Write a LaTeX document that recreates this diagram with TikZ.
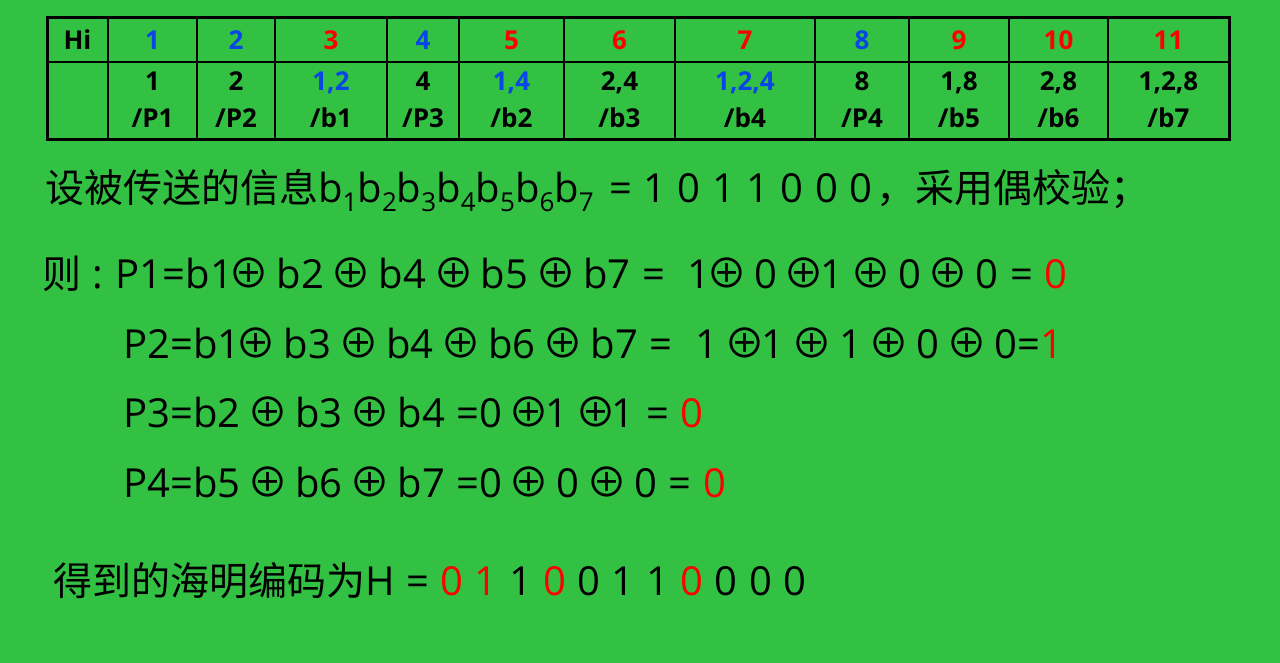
\documentclass[tikz,border=0pt]{standalone}
\usepackage{fontspec}
\setmainfont[WordSpace=1.1]{Open Sans}
\newfontfamily\cjkf{Noto Sans CJK SC}
\newcommand{\cjk}[1]{{\cjkf\fontsize{39}{39}\selectfont #1}}
\newcommand{\xo}{\hbox to 32pt{\hss{\cjkf\fontsize{41}{41}\selectfont ⊕}\hss}}
\definecolor{bg}{RGB}{51,193,67}
\definecolor{hblue}{RGB}{10,70,230}
\definecolor{hred}{RGB}{255,0,0}
\newcommand{\sbx}[1]{\raisebox{-0.22em}{\fontsize{26}{26}\selectfont #1}}
\newcommand{\bl}[1]{\textcolor{hblue}{#1}}
\newcommand{\rd}[1]{\textcolor{hred}{#1}}
\tikzset{
  cell/.style={inner sep=0pt, font=\fontsize{26}{26}\selectfont\bfseries, text=black, anchor=base},
  body/.style={inner sep=0pt, anchor=base west, font=\fontsize{40}{40}\selectfont, text=black},
  thinrule/.style={line width=1.5pt, black},
  thickrule/.style={line width=3pt, black}
}
\begin{document}
\begin{tikzpicture}[x=1pt,y=-1pt]
\fill[bg] (0,0) rectangle (1280,663);
\useasboundingbox (0,0) rectangle (1280,663);
% table grid
\foreach \x in {108,197,275,387,459,564,675,815,909,1009,1108}
  \draw[thinrule] (\x,18) -- (\x,140);
\draw[thinrule] (47,62) -- (1229,62);
\draw[thickrule] (47,18) rectangle (1229,140);
% header row
\node[cell] (h0) at (77.5,50) {Hi};
\node[cell] (h1) at (152.5,50) {\bl{1}};
\node[cell] (h2) at (236,50) {\bl{2}};
\node[cell] (h3) at (331,50) {\rd{3}};
\node[cell] (h4) at (423,50) {\bl{4}};
\node[cell] (h5) at (511.5,50) {\rd{5}};
\node[cell] (h6) at (619.5,50) {\rd{6}};
\node[cell] (h7) at (745,50) {\rd{7}};
\node[cell] (h8) at (862,50) {\bl{8}};
\node[cell] (h9) at (959,50) {\rd{9}};
\node[cell] (h10) at (1058.5,50) {\rd{10}};
\node[cell] (h11) at (1168.5,50) {\rd{11}};
% second row, upper line
\node[cell] (a1) at (152.5,91) {1};
\node[cell] (a2) at (236,91) {2};
\node[cell] (a3) at (331,91) {\bl{1,2}};
\node[cell] (a4) at (423,91) {4};
\node[cell] (a5) at (511.5,91) {\bl{1,4}};
\node[cell] (a6) at (619.5,91) {2,4};
\node[cell] (a7) at (745,91) {\bl{1,2,4}};
\node[cell] (a8) at (862,91) {8};
\node[cell] (a9) at (959,91) {1,8};
\node[cell] (a10) at (1058.5,91) {2,8};
\node[cell] (a11) at (1168.5,91) {1,2,8};
% second row, lower line
\node[cell] (b1) at (152.5,128) {/P1};
\node[cell] (b2) at (236,128) {/P2};
\node[cell] (b3) at (331,128) {/b1};
\node[cell] (b4) at (423,128) {/P3};
\node[cell] (b5) at (511.5,128) {/b2};
\node[cell] (b6) at (619.5,128) {/b3};
\node[cell] (b7) at (745,128) {/b4};
\node[cell] (b8) at (862,128) {/P4};
\node[cell] (b9) at (959,128) {/b5};
\node[cell] (b10) at (1058.5,128) {/b6};
\node[cell] (b11) at (1168.5,128) {/b7};
% body text
\node[body] (l1) at (45,203) {\cjk{设被传送的信息}b\sbx{1}b\sbx{2}b\sbx{3}b\sbx{4}b\sbx{5}b\sbx{6}b\sbx{7}\hspace{4pt} = 1 0 1 1 0 0 0\hspace{4pt}\cjk{，采用偶校验；}};
\node[body] (l2) at (42,288) {\cjk{则}\hspace{11pt}:\hspace{13pt}P1=b1\xo{} b2 \xo{} b4 \xo{} b5 \xo{} b7 = \ 1\xo{} 0 \xo{}1 \xo{} 0 \xo{} 0 = \rd{0}};
\node[body] (l3) at (123,358) {P2=b1\xo{} b3 \xo{} b4 \xo{} b6 \xo{} b7 = \ 1 \xo{}1 \xo{} 1 \xo{} 0 \xo{} 0=\rd{1}};
\node[body] (l4) at (123,427) {P3=b2 \xo{} b3 \xo{} b4 =0 \xo{}1 \xo{}1 = \rd{0}};
\node[body] (l5) at (123,497) {P4=b5 \xo{} b6 \xo{} b7 =0 \xo{} 0 \xo{} 0 = \rd{0}};
\node[body] (l6) at (53,595) {\cjk{得到的海明编码为}H = \rd{0} \rd{1} 1 \rd{0} 0 1 1 \rd{0} 0 0 0};
\end{tikzpicture}
\end{document}
